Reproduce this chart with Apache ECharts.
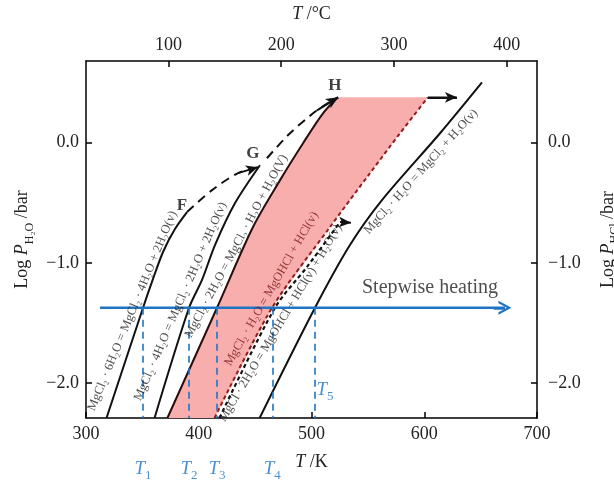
<!DOCTYPE html>
<html>
<head>
<meta charset="utf-8">
<script src="https://cdn.jsdelivr.net/npm/echarts@6/dist/echarts.min.js"></script>
<style>html,body{margin:0;background:#fff}#chart{width:614px;height:481px}</style>
</head>
<body>
<div id="chart"></div>
<script>
// phase boundaries, points are [T /K, log P]
var hexaTetra  = [[318.2,-2.29],[350.6,-1.373],[358.5,-1.158],[368.3,-0.909],[378.9,-0.718],[389.6,-0.577]];
var fToG       = [[389.6,-0.577],[411.8,-0.394],[434.8,-0.253],[452.5,-0.203]];
var tetraDi    = [[360.8,-2.29],[391.4,-1.373],[402.9,-1.141],[414.4,-0.851],[432.2,-0.502],[454.3,-0.187]];
var gToH       = [[460.5,-0.129],[480.9,0.079],[504.9,0.270],[523.5,0.378]];
var diMono     = [[372.2,-2.29],[416.2,-1.373],[448.1,-0.701],[472.1,-0.311],[492.5,-0.004],[510.2,0.245],[523.5,0.378]];
var monoHyd    = [[414.0,-2.29],[465.0,-1.373],[516.4,-0.701],[551.9,-0.253],[578.5,0.079],[603.3,0.378]];
var diHyd      = [[418.4,-2.29],[467.6,-1.373],[496.0,-1.033],[525.3,-0.660]];
var monoDehyd  = [[454.0,-2.29],[503.1,-1.373],[534.1,-0.851],[562.5,-0.477],[614.0,0.079],[651.2,0.502]];
var topArrow   = [[603.3,0.378],[629.0,0.378]];
var diHydArrow = [[525.3,-0.660],[535.0,-0.666]];

// stepwise heating
var heatLevel = -1.373;
var heatFrom = 312.4, heatTo = 671.6;
var stepTemps = [350.6, 391.4, 416.2, 465.2, 503.1];
var stepNames = ['1', '2', '3', '4', '5'];

var kTicks = [300, 400, 500, 600, 700];
var cTicks = [100, 200, 300, 400];
var pTicks = [-2, -1, 0];

var reactions = [
  'MgCl₂ · 6H₂O = MgCl₂ · 4H₂O + 2H₂O(v)',
  'MgCl₂ · 4H₂O = MgCl₂ · 2H₂O + 2H₂O(v)',
  'MgCl₂ · 2H₂O = MgCl₂ · H₂O + H₂O(V)',
  'MgCl₂ · H₂O = MgOHCl + HCl(v)',
  'MgCl · 2H₂O = MgOHCl + HCl(v) + H₂O(v)',
  'MgCl₂ · H₂O = MgCl₂ + H₂O(v)'
];
var reactionSpots = [[341.2,-1.40],[383.8,-1.32],[433.4,-0.86],[464.6,-1.216],[472.5,-1.50],[597.1,-0.24]];
var reactionAngles = [67.5, 66.5, 62, 60, 59, 48];

var points = ['F', 'G', 'H'];
var pointSpots = [[385.1,-0.519],[448.1,-0.087],[520.8,0.477]];

var serif = "'Liberation Serif', 'Times New Roman', serif";
var blue = '#1f74c4';
var chevron = 'path://M0,13 L7,0 L14,13 L11.6,13 L7,4.6 L2.4,13 Z';
var chart = echarts.init(document.getElementById('chart'));

function fmtP(v) { return (v < 0 ? '−' : '') + Math.abs(v).toFixed(1); }

function curve(data, color, type, width) {
  return {
    type: 'line', data: data, smooth: 0.3, showSymbol: false, symbol: 'none', silent: true,
    lineStyle: {color: color, width: width || 2, type: type || 'solid'}, z: 3
  };
}

function withArrow(s, seg) {
  s.markLine = {
    silent: true, symbol: ['none', 'arrow'], symbolSize: [8, 12],
    label: {show: false},
    lineStyle: {color: s.lineStyle.color, width: 2, type: 'solid'},
    data: [[{coord: seg[0]}, {coord: seg[1]}]]
  };
  return s;
}

var yAxisBase = {
  type: 'value', min: -2.29, max: 0.68,
  splitLine: {show: false},
  axisLine: {show: true, onZero: false, lineStyle: {color: '#000', width: 1.5}},
  axisTick: {inside: true, length: 6, customValues: pTicks, lineStyle: {color: '#000', width: 1.5}},
  axisLabel: {customValues: pTicks, formatter: fmtP, color: '#222', fontFamily: serif, fontSize: 18, margin: 7},
  nameLocation: 'middle', nameRotate: 90,
  nameTextStyle: {
    color: '#222', fontFamily: serif, fontSize: 18,
    rich: {
      n: {fontFamily: serif, fontSize: 18, color: '#222', lineHeight: 26},
      i: {fontFamily: serif, fontSize: 18, fontStyle: 'italic', color: '#222', lineHeight: 26},
      s: {fontFamily: serif, fontSize: 12, color: '#222', verticalAlign: 'bottom', lineHeight: 26}
    }
  }
};

var option = {
  animation: false,
  backgroundColor: '#fff',
  grid: {left: 86, right: 77, top: 61, bottom: 63, outerBoundsMode: 'none', containLabel: false},
  xAxis: [{
    type: 'value', min: 300, max: 700, position: 'bottom',
    splitLine: {show: false},
    axisLine: {show: true, onZero: false, lineStyle: {color: '#000', width: 1.5}},
    axisTick: {inside: true, length: 6, customValues: kTicks, lineStyle: {color: '#000', width: 1.5}},
    axisLabel: {customValues: kTicks, color: '#222', fontFamily: serif, fontSize: 18, margin: 7},
    name: '{i|T} /K', nameLocation: 'middle', nameGap: 35,
    nameTextStyle: {rich: {
      i: {fontFamily: serif, fontSize: 18, fontStyle: 'italic', color: '#222'}
    }, fontFamily: serif, fontSize: 18, color: '#222'}
  }, {
    type: 'value', min: 300 - 273.15, max: 700 - 273.15, position: 'top',
    splitLine: {show: false},
    axisLine: {show: true, onZero: false, lineStyle: {color: '#000', width: 1.5}},
    axisTick: {inside: true, length: 6, customValues: cTicks, lineStyle: {color: '#000', width: 1.5}},
    axisLabel: {customValues: cTicks, color: '#222', fontFamily: serif, fontSize: 18, margin: 7},
    name: '{i|T} /°C', nameLocation: 'middle', nameGap: 38,
    nameTextStyle: {rich: {
      i: {fontFamily: serif, fontSize: 18, fontStyle: 'italic', color: '#222'}
    }, fontFamily: serif, fontSize: 18, color: '#222'}
  }],
  yAxis: [
    Object.assign({}, yAxisBase, {position: 'left', name: '{n|Log }{i|P}{s|H₂O}{n| /bar}', nameGap: 45}),
    Object.assign({}, yAxisBase, {position: 'right', name: '{n|Log }{i|P}{s|HCl}{n| /bar}', nameGap: 58,
      axisLabel: Object.assign({}, yAxisBase.axisLabel, {margin: 11})})
  ],
  series: [
    {
      type: 'custom', silent: true, z: 1,
      data: [[0, 0]],
      renderItem: function (params, api) {
        var pts = diMono.concat(monoHyd.slice().reverse()).map(function (p) { return api.coord(p); });
        return {type: 'polygon', shape: {points: pts}, style: {fill: '#f9aeae'}};
      }
    },
    curve(hexaTetra, '#111'),
    withArrow(curve(fToG, '#111', [9, 6]), fToG.slice(-2)),
    curve(tetraDi, '#111'),
    withArrow(curve(gToH, '#111', [9, 6]), gToH.slice(-2)),
    curve(diMono, '#2b0d0d'),
    curve(monoHyd, '#8e1d1d', [4, 3]),
    withArrow(curve(diHyd, '#111', [4, 3], 2.2), diHydArrow),
    curve(monoDehyd, '#111'),
    withArrow(curve(topArrow, '#111', 'solid', 1.6), topArrow),
    {
      type: 'line', data: [[heatFrom, heatLevel], [heatTo, heatLevel]], symbol: 'none', silent: true, z: 4,
      lineStyle: {color: blue, width: 2.5},
      markLine: {
        silent: true, symbol: ['none', chevron], symbolSize: [14, 13], label: {show: false},
        lineStyle: {color: blue, width: 2.5, type: 'solid'},
        data: [[{coord: [heatTo - 10, heatLevel]}, {coord: [heatTo, heatLevel]}]]
      }
    },
    {
      type: 'line', data: [], silent: true, z: 4,
      markLine: {
        silent: true, symbol: 'none', label: {show: false},
        lineStyle: {color: blue, width: 1.6, type: [7, 5]},
        data: stepTemps.map(function (t) { return [{coord: [t, heatLevel]}, {coord: [t, -2.29]}]; })
      }
    },
    {
      // reaction labels along the boundaries
      type: 'scatter', symbolSize: 0, silent: true, z: 5,
      data: reactions.map(function (r, i) {
        return {
          value: reactionSpots[i],
          label: {
            show: true, position: 'inside', formatter: r, rotate: reactionAngles[i],
            fontFamily: serif, fontSize: 12.5, color: i === 3 ? '#7a1515' : '#222'
          }
        };
      })
    },
    {
      type: 'scatter', symbolSize: 0, silent: true, z: 5,
      data: points.map(function (p, i) {
        return {value: pointSpots[i], label: {show: true, position: 'inside', formatter: p,
          fontFamily: serif, fontSize: 17, fontWeight: 'bold', color: '#111'}};
      })
    },
    {
      type: 'scatter', symbolSize: 0, silent: true, z: 5,
      data: [{value: [605.1, -1.207], label: {show: true, position: 'inside', formatter: 'Stepwise heating',
        fontFamily: serif, fontSize: 20, color: '#222'}}]
    },
    {
      // T1..T4 below the axis, T5 inside the plot
      type: 'scatter', symbolSize: 0, silent: true, z: 5, clip: false,
      data: stepNames.map(function (n, i) {
        var inside = i === 4;
        return {
          value: inside ? [512, -2.054] : [stepTemps[i], -2.29],
          label: {
            show: true, position: inside ? 'inside' : 'bottom', distance: 38,
            formatter: '{i|T}{s|' + n + '}',
            rich: {
              i: {fontFamily: serif, fontSize: 19, fontStyle: 'italic', color: blue, lineHeight: 26},
              s: {fontFamily: serif, fontSize: 13, color: blue, verticalAlign: 'bottom', lineHeight: 26}
            }
          }
        };
      })
    }
  ]
};
chart.setOption(option);
</script>
</body>
</html>
